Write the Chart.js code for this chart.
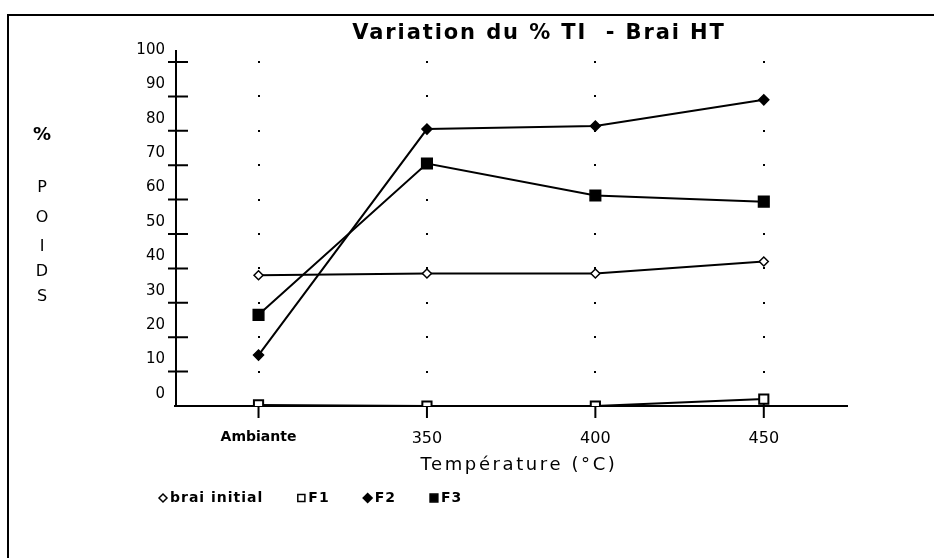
<!DOCTYPE html>
<html lang="fr">
<head>
<meta charset="utf-8">
<title>Variation du % TI - Brai HT</title>
<script src="https://cdn.jsdelivr.net/npm/chart.js@4.4.1/dist/chart.umd.min.js"></script>
<style>
  html, body { margin: 0; padding: 0; background: #fff; }
  #wrap { position: relative; width: 934px; height: 558px; overflow: hidden; }
  #frame {
    position: absolute; left: 7px; top: 14px; right: -4px; bottom: -4px;
    border-top: 2px solid #000; border-left: 2px solid #000;
  }
  #chart { position: absolute; left: 0; top: 0; }
</style>
</head>
<body>
<div id="wrap">
  <div id="frame"></div>
  <canvas id="chart" width="934" height="558"></canvas>
</div>
<script>
// ---------------------------------------------------------------
//  Données : % en poids par température
// ---------------------------------------------------------------
const TEMPERATURES = ["Ambiante", "350", "400", "450"];
const BRAI_INITIAL = [38, 38.5, 38.5, 42];
const F1           = [0.3, 0, 0, 2];
const F2           = [14.8, 80.5, 81.4, 89];
const F3           = [26.5, 70.5, 61.2, 59.4];
const Y_TICKS      = [0, 10, 20, 30, 40, 50, 60, 70, 80, 90, 100];

const TITLE   = "Variation du % TI  - Brai HT";
const X_TITLE = "Température (°C)";
const Y_TITLE = ["%", "", "P", "O", "I", "D", "S"];

const INK = "#000";

const toPoints = vals => vals.map((v, i) => ({ x: i, y: v }));

// ---------------------------------------------------------------
//  Axes "à l'ancienne" : croix sur les graduations, grille en pointillés
// ---------------------------------------------------------------
const axesPlugin = {
  id: "oldAxes",
  beforeDatasetsDraw(chart) {
    const { ctx, chartArea, scales: { x, y } } = chart;
    const x0 = chartArea.left;
    const y0 = y.getPixelForValue(0);
    ctx.save();
    ctx.fillStyle = INK;
    ctx.strokeStyle = INK;

    // points de grille à chaque croisement
    TEMPERATURES.forEach((_, i) => {
      const px = Math.round(x.getPixelForValue(i));
      Y_TICKS.slice(1).forEach(v => {
        const py = Math.round(y.getPixelForValue(v));
        ctx.fillRect(px - 1, py - 1, 2, 2);
      });
    });

    ctx.lineWidth = 2;
    ctx.beginPath();
    // axe vertical (dépasse un peu au-dessus de 100)
    ctx.moveTo(x0, y.getPixelForValue(100) - 12);
    ctx.lineTo(x0, y0);
    // axe horizontal
    ctx.moveTo(x0 - 2, y0);
    ctx.lineTo(chartArea.right, y0);
    // graduations Y en croix
    Y_TICKS.slice(1).forEach(v => {
      const py = y.getPixelForValue(v);
      ctx.moveTo(x0 - 8, py);
      ctx.lineTo(x0 + 12, py);
    });
    // graduations X
    TEMPERATURES.forEach((_, i) => {
      const px = x.getPixelForValue(i);
      ctx.moveTo(px, y0 - 4);
      ctx.lineTo(px, y0 + 12);
    });
    ctx.stroke();
    ctx.restore();
  },

  afterDraw(chart) {
    const { ctx, chartArea } = chart;
    ctx.save();
    ctx.fillStyle = INK;
    ctx.textBaseline = "middle";

    // titre
    ctx.font = "bold 21px 'DejaVu Sans'";
    ctx.letterSpacing = "1.9px";
    ctx.textAlign = "left";
    const tw = ctx.measureText(TITLE).width;
    ctx.fillText(TITLE, 539 - tw / 2, 34);

    // titre de l'axe X
    ctx.font = "18px 'DejaVu Sans'";
    ctx.letterSpacing = "2.6px";
    const xw = ctx.measureText(X_TITLE).width;
    ctx.fillText(X_TITLE, (chartArea.left + chartArea.right) / 2 + 7 - xw / 2, 465);

    // titre de l'axe Y, lettres empilées
    ctx.letterSpacing = "0px";
    ctx.textAlign = "center";
    const letterY = [135, 161, 188, 218, 247, 272, 297];
    Y_TITLE.forEach((ch, i) => {
      if (!ch) return;
      ctx.font = ch === "%" ? "bold 18px 'DejaVu Sans'" : "16px 'DejaVu Sans'";
      ctx.fillText(ch, 42, letterY[i]);
    });

    // légende
    ctx.textAlign = "left";
    ctx.font = "bold 14px 'DejaVu Sans'";
    ctx.letterSpacing = "1px";
    let cx = 163;
    const ly = 498;
    chart.data.datasets.forEach(ds => {
      ctx.fillStyle = ds.legendFill;
      ctx.strokeStyle = INK;
      ctx.lineWidth = 1.5;
      Chart.helpers.drawPoint(ctx, {
        pointStyle: ds.pointStyle,
        radius: ds.legendRadius,
        rotation: 0,
        borderWidth: 1.5,
      }, cx, ly);
      ctx.fillStyle = INK;
      ctx.fillText(ds.label, cx + 7, ly);
      cx += 7 + ctx.measureText(ds.label).width + 38;
    });
    ctx.restore();
  },
};

// ---------------------------------------------------------------
//  Graphique
// ---------------------------------------------------------------
const lineDefaults = {
  borderColor: INK,
  borderWidth: 2,
  pointBorderColor: INK,
  pointBorderWidth: 1.5,
  tension: 0,
  fill: false,
};

new Chart(document.getElementById("chart"), {
  type: "line",
  data: {
    datasets: [
      { ...lineDefaults, label: "brai initial", data: toPoints(BRAI_INITIAL),
        pointStyle: "rectRot", pointRadius: 4.5, backgroundColor: "#fff",
        legendFill: "#fff", legendRadius: 4 },
      { ...lineDefaults, label: "F1", data: toPoints(F1),
        pointStyle: "rect", pointRadius: 6.5, pointBorderWidth: 2, backgroundColor: "#fff",
        legendFill: "#fff", legendRadius: 5 },
      { ...lineDefaults, label: "F2", data: toPoints(F2),
        pointStyle: "rectRot", pointRadius: 5, backgroundColor: INK,
        legendFill: INK, legendRadius: 4.5 },
      { ...lineDefaults, label: "F3", data: toPoints(F3),
        pointStyle: "rect", pointRadius: 7.5, backgroundColor: INK,
        legendFill: INK, legendRadius: 5.5 },
    ],
  },
  options: {
    responsive: false,
    animation: false,
    layout: { autoPadding: false, padding: { left: 0, right: 86, top: 62, bottom: 0 } },
    plugins: {
      legend: { display: false },
      title: { display: false },
      tooltip: { enabled: false },
    },
    scales: {
      x: {
        type: "linear",
        min: -0.49,
        max: 3.5,
        afterBuildTicks: s => { s.ticks = TEMPERATURES.map((_, i) => ({ value: i })); },
        afterFit: s => { s.height = 152; },
        grid: { display: false },
        border: { display: false },
        ticks: {
          color: INK,
          padding: 15,
          maxRotation: 0,
          autoSkip: false,
          font: c => c.index === 0
            ? { family: "'DejaVu Sans'", size: 14, weight: "bold" }
            : { family: "'DejaVu Sans'", size: 16 },
          callback: v => TEMPERATURES[v],
        },
      },
      y: {
        min: 0,
        max: 100,
        afterBuildTicks: s => { s.ticks = Y_TICKS.map(v => ({ value: v })); },
        afterFit: s => { s.width = 176; },
        grid: { display: false },
        border: { display: false },
        ticks: {
          color: INK,
          padding: 3,
          labelOffset: -12,
          font: { family: "'DejaVu Sans'", size: 15 },
        },
      },
    },
  },
  plugins: [axesPlugin],
});
</script>
</body>
</html>
